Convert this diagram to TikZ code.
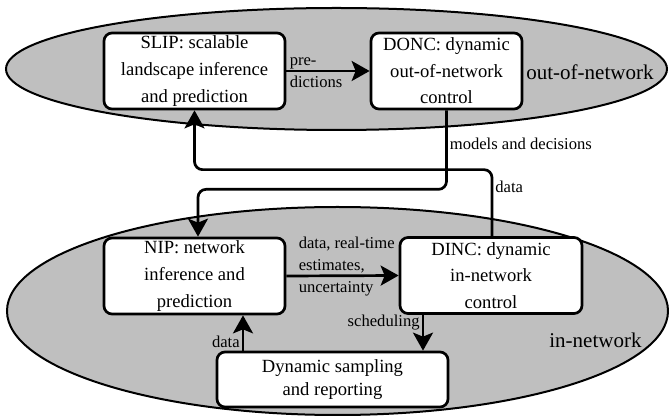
\documentclass[tikz,border=0pt]{standalone}
\usepackage{fontspec}
\setmainfont{Liberation Serif}
\usepackage{tikz}
\usetikzlibrary{arrows.meta,positioning,calc}

\begin{document}
\begin{tikzpicture}[x=0.5pt,y=-0.5pt,
    region/.style={draw, line width=1pt, fill=gray!50},
    block/.style={draw, fill=white, line width=1.35pt, rounded corners=4pt, align=center,
        inner sep=0pt, minimum height=38pt, font=\fontsize{9.3}{13.3}\selectfont},
    flow/.style={line width=1.35pt, rounded corners=4pt, -{Stealth[length=9pt,width=10pt,inset=2pt]}},
    lbl/.style={font=\fontsize{8.3}{11}\selectfont, inner sep=1pt, align=left},
    zone/.style={font=\fontsize{10.5}{12}\selectfont, inner sep=0pt, anchor=west}]
    \useasboundingbox (0,0) rectangle (669,416);

    % Regions
    \path[region] (336.5,69) ellipse [x radius=165.25pt, y radius=30.5pt];
    \path[region] (337.5,311) ellipse [x radius=165.25pt, y radius=52pt];
    \node[zone] (outnet) at (526,72) {out-of-network};
    \node[zone] (innet) at (549,340) {in-network};

    % Out-of-network blocks
    \node[block, minimum width=90.5pt] (slip) at (194.5,71) {SLIP: scalable\\landscape inference\\and prediction};
    \node[block, minimum width=75.5pt] (donc) at (446.5,71) {DONC: dynamic\\out-of-network\\control};

    % In-network blocks
    \node[block, minimum width=90.5pt] (nip) at (194.5,276) {NIP: network\\inference and\\prediction};
    \node[block, minimum width=91pt] (dinc) at (491,275.5) {DINC: dynamic\\in-network\\control};
    \node[block, minimum width=115.5pt, minimum height=27.5pt, font=\fontsize{9.3}{11.5}\selectfont] (dsr) at (332.5,379.5) {Dynamic sampling\\and reporting};

    % Connectors
    \draw[flow] (slip) -- (donc);
    \node[lbl, anchor=west] (predlbl) at ([xshift=0.5pt,yshift=-0.75pt]slip.east) {pre-\\dictions};
    \draw[flow] (nip.east) -- (dinc.west);
    \node[lbl, anchor=west] (estlbl) at ([xshift=5pt,yshift=4.5pt]nip.east) {data, real-time\\estimates,\\uncertainty};
    \draw[flow] (donc.south) -- ++(0,79) node[lbl, right, pos=0.43] {models and decisions}
        -| ([xshift=1.75pt]nip.north);
    \draw[flow] ([xshift=0.5pt]dinc.north) -- ++(0,-66.5) node[lbl, right, pos=0.74] {data}
        -| (slip.south);
    \draw[flow] ([xshift=-34pt]dinc.south) coordinate (sch) -- (sch |- dsr.north)
        node[lbl, left, pos=0.22] {scheduling};
    \draw[flow] ([xshift=-44.75pt]dsr.north) coordinate (dat) -- (dat |- nip.south)
        node[lbl, left, pos=0.26] {data};
\end{tikzpicture}
\end{document}
